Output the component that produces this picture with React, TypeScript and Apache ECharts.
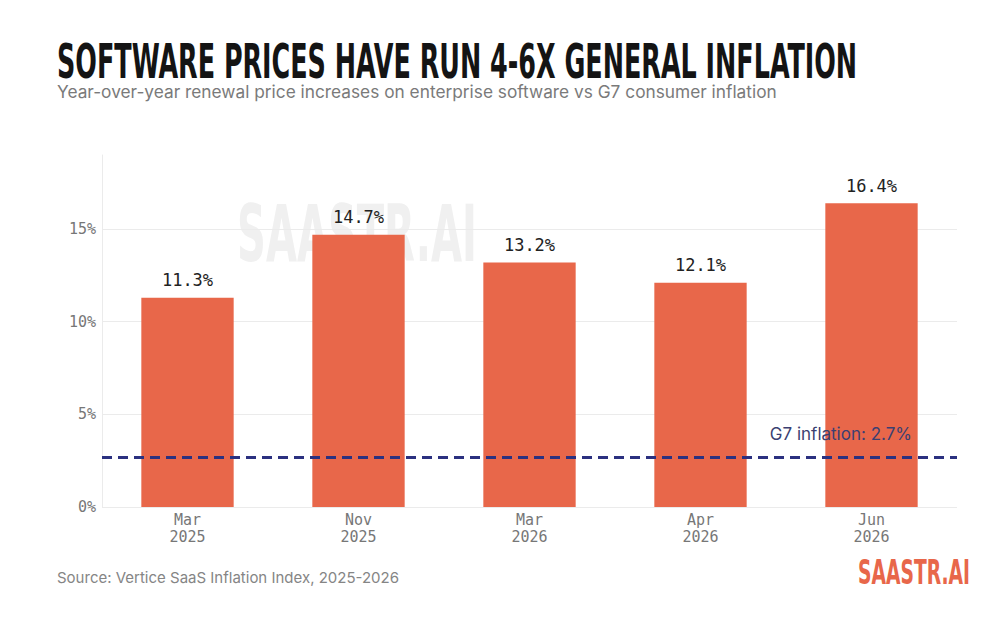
import React, { useEffect, useRef } from "react";
import * as echarts from "echarts";

const categories = ["Mar\n2025", "Nov\n2025", "Mar\n2026", "Apr\n2026", "Jun\n2026"];
const renewalIncrease = [11.3, 14.7, 13.2, 12.1, 16.4];
const g7Inflation = 2.7;
const yTicks = [0, 5, 10, 15];

const TITLE = "SOFTWARE PRICES HAVE RUN 4-6X GENERAL INFLATION";
const SUBTITLE = "Year-over-year renewal price increases on enterprise software vs G7 consumer inflation";
const SOURCE = "Source: Vertice SaaS Inflation Index, 2025-2026";
const BRAND = "SAASTR.AI";

const COND = '"DejaVu Sans Condensed", "DejaVu Sans", sans-serif';
const MONO = '"DejaVu Sans Mono", "Liberation Mono", monospace';
const SANS = 'Inter, "Noto Sans", sans-serif';

function measure(text: string, font: string): number {
  const c = document.createElement("canvas");
  const ctx = c.getContext("2d")!;
  ctx.font = font;
  return ctx.measureText(text).width;
}

function condText(text: string, capH: number, width: number, x: number, cy: number, align: string, color: string, z = 10) {
  const size = Math.round(capH / 0.729);
  const w = measure(text, `bold ${size}px ${COND}`);
  return {
    type: "text",
    x,
    y: cy,
    scaleX: width / w,
    z,
    silent: true,
    style: {
      text,
      fill: color,
      font: `bold ${size}px ${COND}`,
      textAlign: align,
      textVerticalAlign: "middle",
    },
  };
}

export default function App() {
  const ref = useRef<HTMLDivElement>(null);
  useEffect(() => {
    if (!ref.current) return;
    const chart = echarts.init(ref.current, undefined, { renderer: "svg" });
    chart.setOption({
      animation: false,
      backgroundColor: "#ffffff",
      graphic: [
        condText(TITLE, 35, 800, 57, 61, "left", "#141414"),
        {
          type: "text",
          x: 57,
          y: 91,
          silent: true,
          style: { text: SUBTITLE, fill: "#7a7a7a", font: `17.3px ${SANS}`, textAlign: "left", textVerticalAlign: "middle" },
        },
        { ...condText(BRAND, 57, 240, 357, 234, "center", "#f0f0f0", 0), z: -1 },
        {
          type: "text",
          x: 57,
          y: 577,
          silent: true,
          style: { text: SOURCE, fill: "#858585", font: `15px ${SANS}`, textAlign: "left", textVerticalAlign: "middle" },
        },
        condText(BRAND, 25, 112, 970, 573, "right", "#e8674a"),
      ],
      grid: { left: 102, right: 43, top: 155, bottom: 130, containLabel: false },
      xAxis: {
        type: "category",
        data: categories,
        axisLine: { show: false },
        axisTick: { show: false },
        axisLabel: { color: "#777777", fontFamily: MONO, fontSize: 15, lineHeight: 17, margin: 4 },
      },
      yAxis: {
        type: "value",
        min: 0,
        max: 19,
        interval: 5,
        axisLine: { show: true, lineStyle: { color: "#ebebeb", width: 1 } },
        axisTick: { show: false },
        axisLabel: {
          color: "#777777",
          fontFamily: MONO,
          fontSize: 15,
          margin: 6,
          showMaxLabel: false,
          formatter: (v: number) => (yTicks.includes(v) ? `${v}%` : ""),
        },
        splitLine: { show: true, showMaxLine: false, lineStyle: { color: "#ebebeb", width: 1 } },
      },
      series: [
        {
          type: "bar",
          data: renewalIncrease,
          barWidth: "54%",
          itemStyle: { color: "#e8674a" },
          label: {
            show: true,
            position: "top",
            distance: 9,
            formatter: "{c}%",
            color: "#222222",
            fontFamily: MONO,
            fontSize: 17,
          },
          markLine: {
            silent: true,
            symbol: "none",
            lineStyle: { color: "#2b3180", width: 3, type: [10, 6] },
            label: {
              show: true,
              position: "insideEndTop",
              distance: [45, 14],
              formatter: `G7 inflation: ${g7Inflation}%`,
              color: "#3b3f72",
              fontFamily: SANS,
              fontSize: 17,
            },
            data: [{ yAxis: g7Inflation }],
          },
        },
      ],
    });
    return () => chart.dispose();
  }, []);
  return <div ref={ref} style={{ width: 1000, height: 637, position: "absolute", left: 0, top: 0 }} />;
}
